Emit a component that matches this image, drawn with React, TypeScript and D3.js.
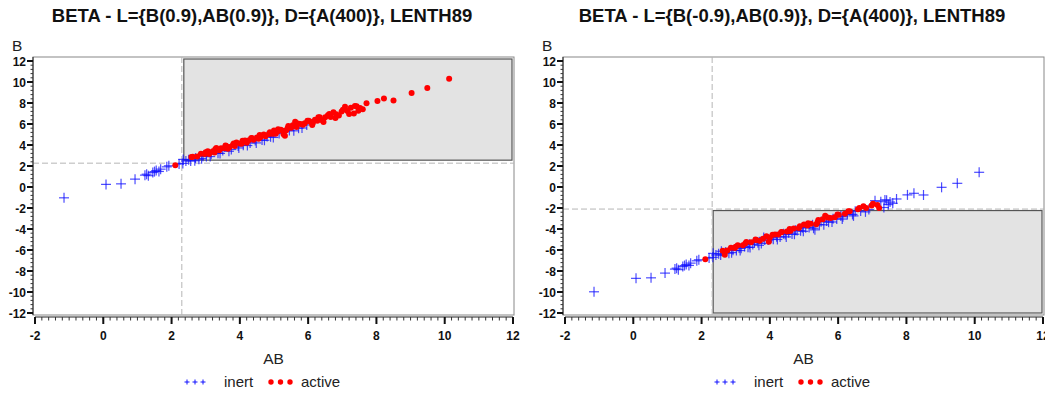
import React from "react";
import * as d3 from "d3";

// Effect estimates (same AB estimates in both panels)
const abEst = [
  -1.15, 0.08, 0.52, 0.93, 1.22, 1.27, 1.32, 1.45, 1.5, 1.55,
  1.63, 1.68, 1.86, 1.92, 2.11, 2.22, 2.33, 2.34, 2.42, 2.5,
  2.56, 2.62, 2.7, 2.75, 2.8, 2.86, 2.92, 2.97, 3.02, 3.06,
  3.1, 3.16, 3.21, 3.26, 3.31, 3.36, 3.4, 3.45, 3.5, 3.55,
  3.6, 3.65, 3.7, 3.75, 3.8, 3.85, 3.9, 3.95, 4.0, 4.05,
  4.1, 4.15, 4.2, 4.25, 4.3, 4.35, 4.4, 4.45, 4.5, 4.55,
  4.6, 4.65, 4.7, 4.75, 4.8, 4.85, 4.9, 4.95, 5.0, 5.05,
  5.1, 5.15, 5.2, 5.25, 5.32, 5.36, 5.4, 5.45, 5.5, 5.55,
  5.62, 5.66, 5.72, 5.78, 5.85, 5.9, 5.96, 6.02, 6.08, 6.14,
  6.2, 6.27, 6.34, 6.42, 6.5, 6.58, 6.66, 6.74, 6.82, 6.9,
  6.98, 7.08, 7.15, 7.25, 7.34, 7.37, 7.47, 7.52, 7.71, 8.03,
  8.22, 8.5, 9.03, 9.49, 10.13,
  2.58, 2.68, 2.88, 3.0, 3.13, 3.28, 3.42, 3.58, 3.68, 3.82,
  3.97, 4.08, 4.22, 4.33, 4.48, 4.58, 4.72, 4.88, 4.98, 5.12,
  5.28, 5.42, 5.58, 5.7, 5.82, 5.98, 6.12, 6.3, 6.45, 6.62,
  6.8, 7.02, 7.2, 7.42, 7.6,
];

const bFirst = [
  -1.03, 0.25, 0.3, 0.75, 1.13, 1.22, 1.08, 1.38, 1.47, 1.56,
  1.48, 1.7, 1.92, 2.02, 2.08, 2.18, 2.25, 2.63, 2.48, 2.6,
  2.48, 2.87, 2.75, 2.9, 2.65, 3.16, 2.92, 3.15, 2.9, 3.41,
  3.15, 3.11, 3.41, 3.28, 3.71, 3.21, 3.5, 3.7, 3.48, 3.7,
  3.9, 3.65, 3.82, 3.57, 4.02, 3.9, 4.25, 3.9, 4.15, 4.13,
  3.98, 4.43, 4.22, 4.43, 4.2, 4.67, 4.5, 4.43, 4.72, 4.6,
  4.75, 4.47, 5.0, 4.83, 4.8, 5.05, 4.78, 5.07, 5.38, 5.07,
  5.28, 5.1, 5.45, 5.35, 4.87, 5.41, 5.62, 5.37, 5.65, 5.87,
  6.22, 5.71, 5.6, 6.0, 5.93, 6.08, 5.91, 6.3, 6.18, 6.12,
  6.4, 6.32, 6.64, 6.34, 6.65, 6.83, 6.66, 7.11, 6.94, 6.8,
  7.18, 7.65, 7.23, 7.55, 7.0, 7.71, 7.27, 7.52, 7.97, 8.19,
  8.44, 8.25, 8.95, 9.43, 10.31,
  2.85, 2.5, 2.7, 3.3, 2.9, 3.6, 3.2, 3.95, 3.4, 4.15,
  3.72, 4.4, 3.95, 4.65, 4.2, 4.95, 4.45, 5.22, 4.72, 5.5,
  5.02, 5.8, 5.35, 6.05, 5.62, 6.32, 5.9, 6.65, 6.2, 6.95,
  6.58, 7.35, 6.95, 7.7, 7.4,
];

const bSecond = [
  -9.98, -8.7, -8.65, -8.2, -7.82, -7.73, -7.87, -7.57, -7.48, -7.39,
  -7.47, -7.25, -7.03, -6.93, -6.87, -6.77, -6.7, -6.32, -6.47, -6.35,
  -6.47, -6.08, -6.2, -6.05, -6.3, -5.79, -6.03, -5.8, -6.05, -5.54,
  -5.8, -5.84, -5.54, -5.67, -5.24, -5.74, -5.45, -5.25, -5.47, -5.25,
  -5.05, -5.3, -5.13, -5.38, -4.93, -5.05, -4.7, -5.05, -4.8, -4.82,
  -4.97, -4.52, -4.73, -4.52, -4.75, -4.28, -4.45, -4.52, -4.23, -4.35,
  -4.2, -4.48, -3.95, -4.12, -4.15, -3.9, -4.17, -3.88, -3.57, -3.88,
  -3.67, -3.85, -3.5, -3.6, -4.08, -3.54, -3.33, -3.58, -3.3, -3.08,
  -2.73, -3.24, -3.35, -2.95, -3.02, -2.87, -3.04, -2.65, -2.77, -2.83,
  -2.55, -2.63, -2.31, -2.61, -2.3, -2.12, -2.29, -1.84, -2.01, -2.15,
  -1.77, -1.3, -1.72, -1.4, -1.95, -1.24, -1.68, -1.43, -1.14, -0.75,
  -0.6, -0.76, -0.03, 0.35, 1.4,
  -6.12, -6.45, -6.25, -5.68, -6.05, -5.38, -5.75, -5.0, -5.55, -4.8,
  -5.22, -4.55, -5.0, -4.3, -4.75, -4.0, -4.5, -3.73, -4.22, -3.45,
  -3.93, -3.15, -3.6, -2.9, -3.33, -2.62, -3.05, -2.3, -2.75, -2.0,
  -2.37, -1.6, -2.0, -1.25, -1.55,
];

// 1 = active, 0 = inert
const activeFirst = [
  0, 0, 0, 0, 0, 0, 0, 0, 0, 0,
  0, 0, 0, 0, 1, 0, 0, 0, 0, 0,
  0, 1, 0, 1, 0, 1, 0, 1, 0, 1,
  1, 0, 1, 1, 1, 0, 1, 1, 0, 1,
  1, 1, 1, 0, 1, 1, 1, 0, 1, 1,
  0, 1, 1, 1, 0, 1, 1, 0, 1, 1,
  1, 0, 1, 1, 0, 1, 0, 1, 1, 1,
  1, 0, 1, 1, 1, 1, 1, 0, 1, 1,
  1, 1, 0, 1, 1, 1, 0, 1, 1, 1,
  1, 1, 1, 1, 1, 1, 1, 1, 1, 1,
  1, 1, 1, 1, 1, 1, 1, 1, 1, 1,
  1, 1, 1, 1, 1,
  1, 0, 0, 1, 0, 1, 0, 1, 0, 1,
  0, 1, 0, 1, 0, 1, 0, 1, 0, 1,
  1, 1, 0, 1, 0, 1, 1, 1, 1, 1,
  1, 1, 1, 1, 1,
];

const activeSecond = [
  0, 0, 0, 0, 0, 0, 0, 0, 0, 0,
  0, 0, 0, 0, 1, 0, 0, 0, 0, 0,
  0, 1, 0, 1, 0, 1, 0, 1, 0, 1,
  0, 0, 1, 0, 1, 0, 0, 1, 0, 0,
  1, 0, 1, 0, 1, 0, 1, 0, 1, 0,
  0, 1, 0, 1, 0, 1, 0, 0, 1, 0,
  1, 0, 1, 0, 0, 1, 0, 0, 1, 0,
  1, 0, 1, 0, 0, 1, 1, 0, 0, 1,
  1, 0, 0, 1, 0, 1, 0, 1, 0, 0,
  1, 0, 1, 0, 0, 1, 0, 1, 1, 0,
  1, 0, 1, 0, 0, 0, 0, 0, 0, 0,
  0, 0, 0, 0, 0,
  0, 1, 0, 1, 0, 1, 0, 1, 0, 0,
  1, 1, 0, 1, 0, 1, 0, 1, 0, 1,
  0, 1, 0, 1, 0, 1, 0, 1, 0, 1,
  0, 1, 1, 0, 0,
];

const titles = [
  "BETA - L={B(0.9),AB(0.9)}, D={A(400)}, LENTH89",
  "BETA - L={B(-0.9),AB(0.9)}, D={A(400)}, LENTH89",
];
// Lenth margin of error lines
const meAB = [2.3, 2.31];
const meB = [2.27, -2.1];

const xTicks = [-2, 0, 2, 4, 6, 8, 10, 12];
const yTicks = [12, 10, 8, 6, 4, 2, 0, -2, -4, -6, -8, -10, -12];

const FONT = "'Liberation Sans', Arial, sans-serif";
const frame = { left: 33, right: 514, top: 57, bottom: 315 };
const PANEL_W = 530;

const x = d3.scaleLinear().domain([-2, 12]).range([35, 513]);
const y = d3.scaleLinear().domain([-12, 12]).range([313, 61]);

function Panel({ idx, b, active }: { idx: number; b: number[]; active: number[] }) {
  const xMinor = d3.range(-2, 12.001, 0.2);
  const yMinor = d3.range(-12, 12.001, 0.4);
  const vx = x(meAB[idx]);
  const hy = y(meB[idx]);
  const up = meB[idx] > 0;
  const box = up
    ? { x0: vx + 2, x1: frame.right - 2, y0: frame.top + 2, y1: hy - 3 }
    : { x0: vx + 1, x1: frame.right - 2, y0: hy + 1.5, y1: frame.bottom - 2 };
  const pts = abEst.map((a, i) => ({ a, b: b[i], act: active[i] === 1 }));
  const inert = pts.filter((p) => !p.act);
  const act = pts.filter((p) => p.act);
  const cx = (frame.left + frame.right) / 2;

  return (
    <g transform={`translate(${idx * PANEL_W},0)`}>
      <text x={262} y={22} textAnchor="middle" fontFamily={FONT} fontWeight="bold" fontSize={18.5} fill="#111">
        {titles[idx]}
      </text>
      <text x={12} y={51} fontFamily={FONT} fontSize={15.5} fill="#222">B</text>

      <rect x={frame.left} y={frame.top} width={frame.right - frame.left} height={frame.bottom - frame.top} fill="#fff" stroke="#888" />
      <rect x={box.x0} y={box.y0} width={box.x1 - box.x0} height={box.y1 - box.y0} fill="#e3e3e3" stroke="#555" strokeWidth={1.2} />
      <line x1={vx} x2={vx} y1={frame.top} y2={frame.bottom} stroke="#b5b5b5" strokeDasharray="6,3" />
      <line x1={frame.left} x2={frame.right} y1={hy} y2={hy} stroke="#b5b5b5" strokeDasharray="6,3" />

      {inert.map((p, i) => (
        <g key={"i" + i} transform={`translate(${x(p.a)},${y(p.b)})`} stroke="#1010ff" strokeOpacity={0.75} strokeWidth={1.2}>
          <line x1={-5} x2={5} y1={0} y2={0} />
          <line x1={0} x2={0} y1={-5} y2={5} />
        </g>
      ))}
      {act.map((p, i) => (
        <circle key={"a" + i} cx={x(p.a)} cy={y(p.b)} r={3} fill="#ff0000" />
      ))}

      {/* y axis */}
      <line x1={frame.left} x2={frame.left} y1={frame.top} y2={frame.bottom} stroke="#222" />
      {yMinor.map((v, i) => (
        <line key={"ym" + i} x1={frame.left - 2.5} x2={frame.left} y1={y(v)} y2={y(v)} stroke="#333" />
      ))}
      {yTicks.map((v) => (
        <g key={"y" + v}>
          <line x1={frame.left - 6} x2={frame.left} y1={y(v)} y2={y(v)} stroke="#111" strokeWidth={2} />
          <text x={frame.left - 7} y={y(v) + 4.5} textAnchor="end" fontFamily={FONT} fontWeight="bold" fontSize={12} fill="#111">
            {v}
          </text>
        </g>
      ))}

      {/* x axis */}
      <line x1={x(-2)} x2={x(12)} y1={317} y2={317} stroke="#222" />
      {xMinor.map((v, i) => (
        <line key={"xm" + i} x1={x(v)} x2={x(v)} y1={317} y2={320.5} stroke="#333" />
      ))}
      {xTicks.map((v) => (
        <g key={"x" + v}>
          <line x1={x(v)} x2={x(v)} y1={317} y2={324} stroke="#111" strokeWidth={2} />
          <text x={x(v)} y={339.5} textAnchor="middle" fontFamily={FONT} fontWeight="bold" fontSize={12} fill="#111">
            {v}
          </text>
        </g>
      ))}
      <text x={cx} y={364} textAnchor="middle" fontFamily={FONT} fontSize={15.5} fill="#222">AB</text>

      {/* legend */}
      <g fontFamily={FONT} fontSize={15} fill="#222">
        {[0, 1, 2].map((k) => (
          <g key={"lp" + k} transform={`translate(${187 + k * 8},382)`} stroke="#1010ff" strokeWidth={1}>
            <line x1={-2.5} x2={2.5} y1={0} y2={0} />
            <line x1={0} x2={0} y1={-2.5} y2={2.5} />
          </g>
        ))}
        <text x={224} y={387}>inert</text>
        {[0, 1, 2].map((k) => (
          <circle key={"la" + k} cx={271 + k * 9.5} cy={382} r={2.7} fill="#ff0000" />
        ))}
        <text x={301} y={387}>active</text>
      </g>
    </g>
  );
}

export default function App() {
  return (
    <svg width={1045} height={397} style={{ position: "absolute", left: 0, top: 0, background: "#fff" }}>
      <Panel idx={0} b={bFirst} active={activeFirst} />
      <Panel idx={1} b={bSecond} active={activeSecond} />
    </svg>
  );
}
